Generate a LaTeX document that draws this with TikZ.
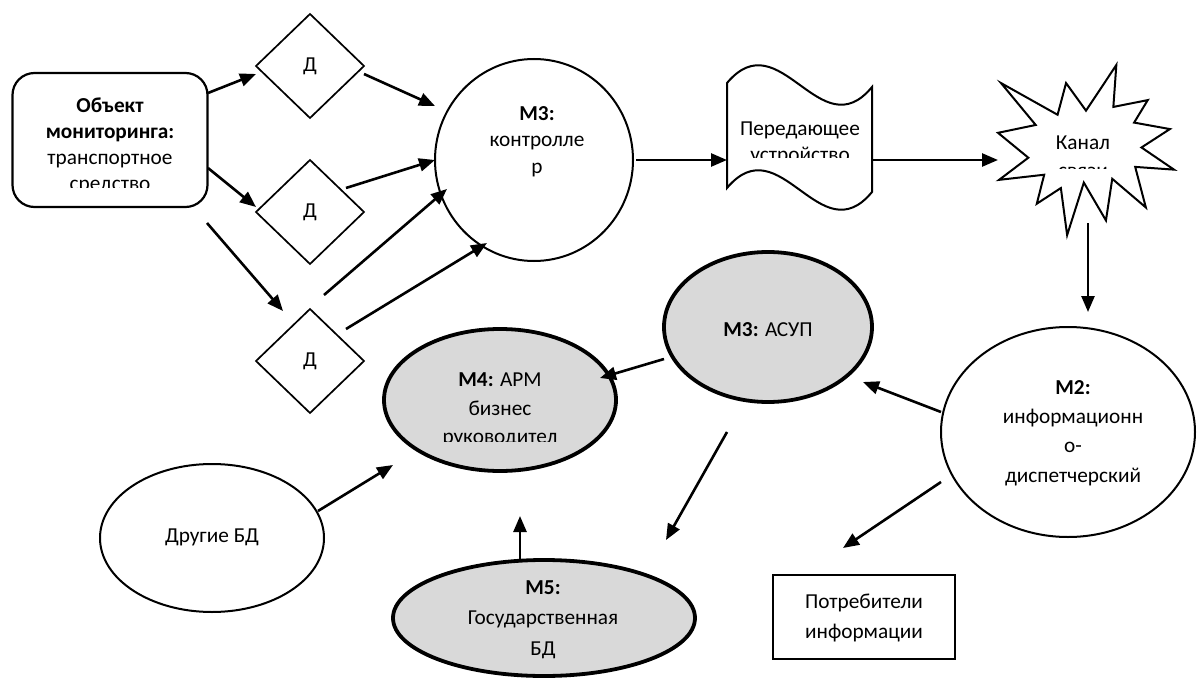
\documentclass[tikz,border=0pt]{standalone}
\usepackage{fontspec}
\setmainfont{Carlito}
\usetikzlibrary{shapes.geometric,arrows.meta}
\definecolor{graybg}{HTML}{D9D9D9}
\begin{document}
\begin{tikzpicture}[x=1pt,y=-1pt,
  every node/.style={inner sep=0pt, outer sep=0pt},
  txt/.style={align=center, font=\fontsize{21.3}{#1}\selectfont},
  txt/.default=26,
  wellipse/.style={ellipse, draw, line width=2pt, fill=white},
  gellipse/.style={ellipse, draw, line width=3.8pt, fill=graybg},
  dia/.style={diamond, draw, line width=1.7pt, minimum width=108pt, minimum height=104pt},
  arr/.style={-{Triangle[length=16pt,width=13pt]}, line width=2.6pt},
]
\useasboundingbox (0,0) rectangle (1197,682);

% ---- shapes ----
\node[draw, rounded corners=22pt, line width=2.2pt, minimum width=195pt, minimum height=134pt] (obj) at (110,140) {};
\node[dia] (d1) at (310,66) {};
\node[dia] (d2) at (310,212) {};
\node[dia] (d3) at (310,361) {};
\node[wellipse, minimum width=198pt, minimum height=202pt] (m3) at (534,160) {};
\node[wellipse, minimum width=254pt, minimum height=210pt] (m2) at (1068,432) {};
\node[wellipse, minimum width=224pt, minimum height=148pt] (other) at (212,538) {};
\node[gellipse, minimum width=208pt, minimum height=150pt] (asup) at (768,327) {};
\node[gellipse, minimum width=232pt, minimum height=142pt] (m4) at (500,400) {};
\node[gellipse, minimum width=302pt, minimum height=116pt] (m5) at (544,618) {};
\node[draw, line width=2pt, minimum width=182pt, minimum height=84pt] (cons) at (864,617) {};

% tape (transmitter)
\coordinate (tape) at (800,137);
\draw[line width=2pt, fill=white]
  (727,83) .. controls (780,20) and (820,150) .. (872,87)
  -- (872,192) .. controls (820,255) and (780,125) .. (727,188) -- cycle;

% explosion (channel)
\coordinate (chan) at (1086,150);
\begin{scope}[shift={(998,65)}, x=0.0081481pt, y=-0.0078704pt]
\draw[line width=2pt, fill=white, line join=miter]
  (10800,5800) -- (14522,0) -- (14155,5325) -- (18380,4457) -- (16702,7315)
  -- (21097,8137) -- (17607,10475) -- (21600,13290) -- (16837,12942)
  -- (18145,18095) -- (14020,14457) -- (13247,19737) -- (10532,14935)
  -- (8485,21600) -- (7715,15627) -- (4762,17617) -- (5667,13937)
  -- (135,14587) -- (3722,11775) -- (0,8615) -- (4627,7617) -- (370,2295)
  -- (7312,6320) -- (8352,2295) -- cycle;
\end{scope}

% ---- texts ----
\begin{scope}
\clip (0,0) rectangle (1197,187);
\node[txt=25.8] (objt) at (110,146) {\textbf{Объект}\\\textbf{мониторинга:}\\транспортное\\средство};
\end{scope}
\node[txt] (d1t) at (d1) {Д};
\node[txt] (d2t) at (d2) {Д};
\node[txt] (d3t) at (d3) {Д};
\node[txt=26.5] (m3t) at (537,141.5) {\textbf{М3:}\\контролле\\р};
\begin{scope}
\clip (0,0) rectangle (1197,158);
\node[txt=26] (tapet) at (800,143) {Передающее\\устройство};
\end{scope}
\begin{scope}
\clip (0,0) rectangle (1197,168.5);
\node[txt=28] (chant) at (1083,157) {Канал\\связи};
\end{scope}
\node[txt] (asupt) at (768,330) {\textbf{М3:} АСУП};
\begin{scope}
\clip (0,0) rectangle (1197,441);
\node[txt=28.5] (m4t) at (500,410) {\textbf{М4:} АРМ\\бизнес\\руководител};
\end{scope}
\node[txt=29.3] (m2t) at (1073,433) {\textbf{М2:}\\информационн\\о-\\диспетчерский};
\node[txt] (othert) at (212,537) {Другие БД};
\node[txt=30.5] (m5t) at (543,619.5) {\textbf{М5:}\\Государственная\\БД};
\node[txt=30] (const) at (864,618) {Потребители\\информации};

% ---- connector end points ----
\coordinate (a1s) at (208,93);   \coordinate (a1e) at (256,74);
\coordinate (a2s) at (208,168);  \coordinate (a2e) at (256,207);
\coordinate (a3s) at (207,223);  \coordinate (a3e) at (283,311);
\coordinate (a4s) at (364,74);   \coordinate (a4e) at (435,106);
\coordinate (a5s) at (346,188);  \coordinate (a5e) at (435,160);
\coordinate (a6s) at (324,295);  \coordinate (a6e) at (447,189);
\coordinate (a7s) at (346,329);  \coordinate (a7e) at (487,243);
\coordinate (a8s) at (636,160);  \coordinate (a8e) at (727,160);
\coordinate (a9s) at (872,160);  \coordinate (a9e) at (998,160);
\coordinate (a10s) at (1088,223); \coordinate (a10e) at (1088,312);
\coordinate (a11s) at (941,412); \coordinate (a11e) at (863,382);
\coordinate (a12s) at (941,482); \coordinate (a12e) at (843,548);
\coordinate (a13s) at (664,359); \coordinate (a13e) at (600,378);
\coordinate (a14s) at (727,432); \coordinate (a14e) at (666,540);
\coordinate (a15s) at (318,511); \coordinate (a15e) at (393,465);
\coordinate (a16s) at (520,562); \coordinate (a16e) at (520,516);

\draw[arr] (a1s) -- (a1e);
\draw[arr] (a2s) -- (a2e);
\draw[arr] (a3s) -- (a3e);
\draw[arr] (a4s) -- (a4e);
\draw[arr] (a5s) -- (a5e);
\draw[arr] (a6s) -- (a6e);
\draw[arr] (a7s) -- (a7e);
\draw[arr] (a8s) -- (a8e);
\draw[arr] (a9s) -- (a9e);
\draw[arr] (a10s) -- (a10e);
\draw[arr] (a11s) -- (a11e);
\draw[arr] (a12s) -- (a12e);
\draw[arr] (a13s) -- (a13e);
\draw[arr] (a14s) -- (a14e);
\draw[arr] (a15s) -- (a15e);
\draw[arr] (a16s) -- (a16e);
\end{tikzpicture}
\end{document}
